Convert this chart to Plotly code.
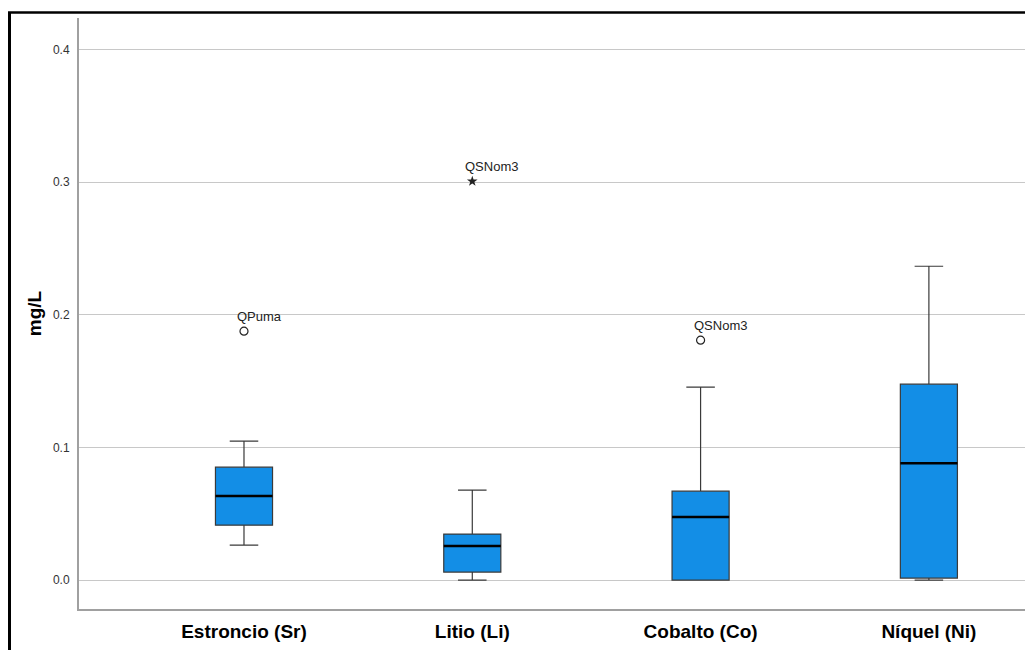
import plotly.graph_objects as go

# ---- data ----
categories = ["Estroncio (Sr)", "Litio (Li)", "Cobalto (Co)", "Níquel (Ni)"]
lower_whisker = [0.0264, 0.0000, 0.0000, 0.0000]
q1_values = [0.0414, 0.0060, 0.0000, 0.0015]
median_values = [0.0633, 0.0256, 0.0475, 0.0881]
q3_values = [0.0851, 0.0347, 0.0670, 0.1476]
upper_whisker = [0.1047, 0.0678, 0.1454, 0.2365]

outlier_category = [0, 1, 2]
outlier_values = [0.1876, 0.3005, 0.1808]
outlier_labels = ["QPuma", "QSNom3", "QSNom3"]
outlier_extreme = [False, True, False]

y_ticks = [0.0, 0.1, 0.2, 0.3, 0.4]

BOX_W = 0.25
FILL = "#138ee6"
FONT = "Arial, Liberation Sans, sans-serif"

fig = go.Figure()

for i, cat in enumerate(categories):
    fig.add_trace(go.Box(
        x=[i], q1=[q1_values[i]], median=[median_values[i]], q3=[q3_values[i]],
        lowerfence=[lower_whisker[i]], upperfence=[upper_whisker[i]],
        width=BOX_W, whiskerwidth=0.5, fillcolor=FILL,
        line=dict(color="#3a3a3a", width=1.2), name=cat, showlegend=False,
        boxpoints=False, hoverinfo="skip",
    ))
    # thick median line
    fig.add_trace(go.Scatter(
        x=[i - BOX_W / 2, i + BOX_W / 2], y=[median_values[i], median_values[i]],
        mode="lines", line=dict(color="black", width=2.5), showlegend=False,
        hoverinfo="skip",
    ))

# outliers
for c, v, lab, ext in zip(outlier_category, outlier_values, outlier_labels, outlier_extreme):
    if ext:
        marker = dict(symbol="star", size=8, color="#222", line=dict(width=0))
    else:
        marker = dict(symbol="circle-open", size=8, color="#222", line=dict(width=1.2))
    fig.add_trace(go.Scatter(x=[c], y=[v], mode="markers", marker=marker,
                             showlegend=False, hoverinfo="skip"))
    fig.add_annotation(x=c, y=v, text=lab, showarrow=False, xanchor="left",
                       yanchor="bottom", xshift=-9, yshift=5,
                       font=dict(family=FONT, size=13, color="#222"))

W, H = 1025, 650
L, R, T, B = 79, 0, 18, 41
pw, ph = W - L - R, H - T - B

def px_x(px):
    return (px - L) / pw

def px_y(py):
    return (H - B - py) / ph

# outer black frame (left and top edges)
fig.add_shape(type="line", xref="paper", yref="paper",
              x0=px_x(9.5), x1=px_x(9.5), y0=px_y(12), y1=px_y(H + 10),
              line=dict(color="black", width=3))
fig.add_shape(type="line", xref="paper", yref="paper",
              x0=px_x(8), x1=px_x(W + 10), y0=px_y(12.5), y1=px_y(12.5),
              line=dict(color="black", width=2.5))

fig.update_layout(
    width=W, height=H,
    margin=dict(l=L, r=R, t=T, b=B, pad=0),
    paper_bgcolor="white", plot_bgcolor="white",
    font=dict(family=FONT, color="#222"),
    xaxis=dict(
        range=[-0.7227, 3.421], tickmode="array",
        tickvals=list(range(len(categories))),
        ticktext=[f"<b>{c}</b>" for c in categories],
        tickfont=dict(size=19, color="black"),
        showgrid=False, zeroline=False, showline=True,
        linecolor="#a0a0a0", linewidth=2,
        ticks="outside", ticklen=4, tickcolor="rgba(0,0,0,0)",
    ),
    yaxis=dict(
        range=[-0.0218, 0.4236], tickmode="array", tickvals=y_ticks,
        ticktext=[f"{v:.1f}" for v in y_ticks],
        tickfont=dict(size=12, color="#333"),
        showgrid=True, gridcolor="#c8c8c8", gridwidth=1,
        zeroline=False, showline=True, linecolor="#a0a0a0", linewidth=2,
        ticks="outside", ticklen=5, tickcolor="rgba(0,0,0,0)",
        title=dict(text="<b>mg/L</b>", font=dict(size=19, color="black"),
                   standoff=6),
    ),
)

fig.write_html(
    "out.html",
    config={"displayModeBar": False},
    post_script="document.body.style.margin='0';document.body.style.overflow='hidden';",
)
